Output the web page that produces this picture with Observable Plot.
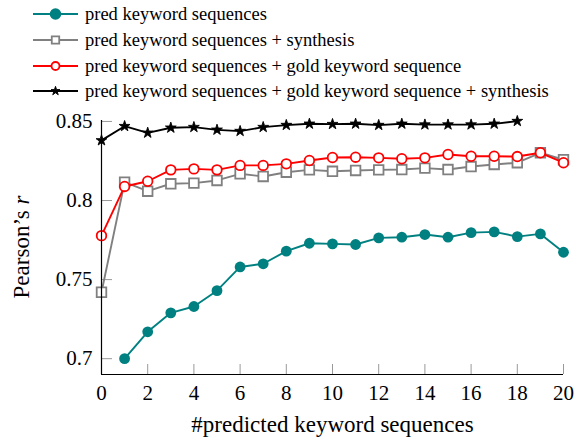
<!DOCTYPE html>
<html>
<head>
<meta charset="utf-8">
<script src="https://cdn.jsdelivr.net/npm/d3@7"></script>
<script src="https://cdn.jsdelivr.net/npm/@observablehq/plot@0.6"></script>
<style>
  html, body { margin: 0; padding: 0; background: #fff; }
  #wrap { position: relative; width: 586px; height: 441px; font-family: "Liberation Serif", "DejaVu Serif", serif; }
  #chart { position: absolute; left: 0; top: 0; }
  #chart svg, #chart svg text { font-family: "Liberation Serif", "DejaVu Serif", serif !important; }
  #legend { position: absolute; left: 0; top: 0; }
  .lrow { position: absolute; left: 33px; height: 20px; display: flex; align-items: center; font-size: 18.5px; white-space: nowrap; color: #000; }
  .lrow svg { margin-right: 7px; }
  #ylabel { position: absolute; left: 22px; top: 247px; transform: translate(-50%, -50%) rotate(-90deg); font-size: 23px; white-space: nowrap; }
</style>
</head>
<body>
<div id="wrap">
  <div id="chart"></div>
  <div id="legend"></div>
  <div id="ylabel">Pearson’s <i>r</i></div>
</div>
<script>
// ---- data ----
const xValues = [0, 1, 2, 3, 4, 5, 6, 7, 8, 9, 10, 11, 12, 13, 14, 15, 16, 17, 18, 19, 20];
const predKeyword = [null, 0.700, 0.717, 0.729, 0.733, 0.743, 0.758, 0.760, 0.768, 0.773, 0.7726, 0.7722, 0.7764, 0.7768, 0.7785, 0.7768, 0.7797, 0.7802, 0.7772, 0.7789, 0.7673];
const predSynth = [0.742, 0.8116, 0.8059, 0.8106, 0.811, 0.8127, 0.8169, 0.8152, 0.8179, 0.8194, 0.8185, 0.819, 0.8194, 0.8196, 0.8205, 0.8196, 0.8215, 0.8228, 0.8239, 0.8302, 0.8258];
const predGold = [0.7778, 0.8089, 0.8122, 0.8194, 0.820, 0.8194, 0.8222, 0.8222, 0.8232, 0.8253, 0.8272, 0.8274, 0.827, 0.8264, 0.827, 0.8291, 0.828, 0.828, 0.8278, 0.8302, 0.8239];
const predGoldSynth = [0.838, 0.847, 0.8428, 0.846, 0.8464, 0.8447, 0.8439, 0.8464, 0.8477, 0.8485, 0.8483, 0.8485, 0.8477, 0.8485, 0.848, 0.848, 0.848, 0.8485, 0.8502];
const seriesNames = [
  "pred keyword sequences",
  "pred keyword sequences + synthesis",
  "pred keyword sequences + gold keyword sequence",
  "pred keyword sequences + gold keyword sequence + synthesis"
];
const xTicks = [0, 2, 4, 6, 8, 10, 12, 14, 16, 18, 20];
const yTicks = [0.7, 0.75, 0.8, 0.85];
const xLabel = "#predicted keyword sequences";

// ---- styles ----
const FONT = "Liberation Serif";
const styles = [
  {color: "#008080", symbol: "circle", r: 5.4, fill: "#008080", stroke: "#008080", sw: 0, lr: 5.8},
  {color: "#808080", symbol: "square", r: 5.4, fill: "white", stroke: "#808080", sw: 1.8, lr: 4.2},
  {color: "#ff0000", symbol: "circle", r: 4.8, fill: "white", stroke: "#ff0000", sw: 1.8, lr: 4.0},
  {color: "#000000", symbol: "star", r: 3.4, fill: "#000", stroke: "#000", sw: 0.9, lr: 2.8}
];
const allSeries = [predKeyword, predSynth, predGold, predGoldSynth];

const toRows = (arr) => arr.map((v, i) => ({x: xValues[i], y: v})).filter(d => d.y != null);

const mTop = 120, mBottom = 67, mLeft = 101, mRight = 23, W = 586, H = 441;
const frameH = H - mTop - mBottom, frameW = W - mLeft - mRight;

const marks = [
  Plot.ruleX(xTicks.filter(d => d !== 0), {stroke: "#999", strokeWidth: 1, insetTop: frameH - 10}),
  Plot.ruleY(yTicks, {stroke: "#999", strokeWidth: 1, insetRight: frameW - 11}),
  Plot.axisX({ticks: xTicks, tickSize: 0, tickPadding: 11, label: null, tickFormat: d => String(d), fontFamily: FONT, fontSize: 21}),
  Plot.axisY({ticks: yTicks, tickSize: 0, tickPadding: 9, label: null, tickFormat: d => String(d), fontFamily: FONT, fontSize: 21}),
  Plot.text([xLabel], {frameAnchor: "bottom", dy: 57, fontSize: 23, fontFamily: FONT, text: d => d})
];
allSeries.forEach((arr, k) => {
  const s = styles[k];
  const rows = toRows(arr);
  marks.push(Plot.line(rows, {x: "x", y: "y", stroke: s.color, strokeWidth: 1.9}));
  marks.push(Plot.dot(rows, {x: "x", y: "y", symbol: s.symbol, r: s.r, fill: s.fill, stroke: s.stroke, strokeWidth: s.sw}));
});
marks.push(Plot.ruleX([0], {stroke: "#000", strokeWidth: 1.2}));
marks.push(Plot.ruleY([0.69], {stroke: "#000", strokeWidth: 1.2}));

const chart = Plot.plot({
  width: W, height: H,
  marginTop: mTop, marginBottom: mBottom, marginLeft: mLeft, marginRight: mRight,
  x: {domain: [0, 20]},
  y: {domain: [0.69, 0.8506]},
  style: "font-family: 'Liberation Serif', serif; font-size: 21px; color: #000; background: transparent; overflow: visible;",
  marks
});
document.getElementById("chart").appendChild(chart);

// ---- legend ----
const legend = document.getElementById("legend");
const rowY = [14, 40, 66, 91];
const symMap = {circle: d3.symbolCircle, square: d3.symbolSquare, star: d3.symbolStar};
seriesNames.forEach((name, k) => {
  const s = styles[k];
  const row = document.createElement("div");
  row.className = "lrow";
  row.style.top = (rowY[k] - 10) + "px";
  const svg = d3.create("svg").attr("width", 45).attr("height", 20);
  svg.append("line").attr("x1", 0).attr("x2", 45).attr("y1", 10).attr("y2", 10)
    .attr("stroke", s.color).attr("stroke-width", 1.8);
  svg.append("path").attr("transform", "translate(22.5,10)")
    .attr("d", d3.symbol(symMap[s.symbol], Math.PI * s.lr * s.lr)())
    .attr("fill", s.fill).attr("stroke", s.stroke).attr("stroke-width", s.sw);
  row.appendChild(svg.node());
  const span = document.createElement("span");
  span.textContent = name;
  row.appendChild(span);
  legend.appendChild(row);
});
</script>
</body>
</html>
